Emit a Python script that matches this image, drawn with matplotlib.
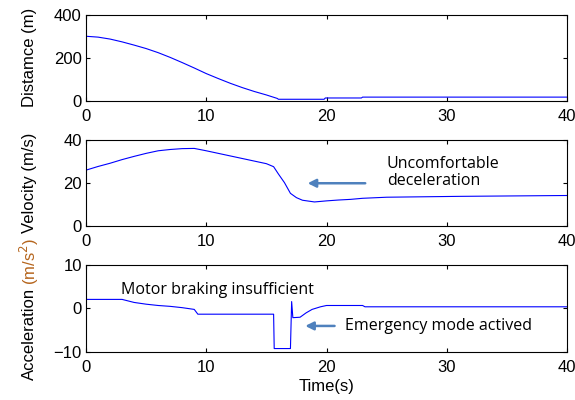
import numpy as np
import matplotlib.pyplot as plt

# ── DATA ────────────────────────────────────────────────────────────────────
dist_t = [0, 1, 2, 3, 4, 5, 6, 7, 8, 9, 10, 11, 12, 13, 14, 15, 15.9,
          16, 19.8, 19.9, 22.9, 23, 40]
dist_m = [300, 296, 287, 274, 259, 243, 224, 202, 178, 153, 127, 104, 82,
          62, 44, 28, 12, 8, 8, 14, 14, 18, 18]

vel_t = [0, 1, 2, 3, 4, 5, 6, 7, 8, 9, 10, 11, 12, 13, 14, 15, 15.6, 16,
         16.5, 17, 17.5, 18, 19, 20, 21, 22, 23, 25, 31, 40]
vel_v = [25.8, 27.5, 29, 30.7, 32.2, 33.6, 34.8, 35.4, 35.8, 35.9, 34.8,
         33.6, 32.4, 31.2, 30, 28.8, 27.4, 24, 20, 15, 13, 11.8, 11, 11.5,
         11.9, 12.2, 12.7, 13.2, 13.6, 14]

acc_t = [0, 3, 4, 5, 6, 7, 8, 9, 9.3, 15.6, 15.65, 17.0, 17.1, 17.2, 17.8,
         18.3, 18.8, 19.5, 20, 23, 23.2, 40]
acc_a = [2, 2, 1.3, 0.9, 0.6, 0.4, 0.1, -0.3, -1.4, -1.4, -9.3, -9.3, 1.5,
         -2.2, -2.1, -1.1, -0.3, 0.3, 0.6, 0.6, 0.3, 0.3]

XTICKS = [0, 10, 20, 30, 40]
LINE_COLOR = '#0000ff'
ARROW_COLOR = '#4f81bd'
NOTE_FONT = ['Open Sans', 'DejaVu Sans']
NOTE_SIZE = 11.5

plt.rcParams['font.family'] = ['Liberation Sans', 'DejaVu Sans']
plt.rcParams['font.size'] = 12

fig = plt.figure(figsize=(5.75, 4.0), dpi=100)
ax1 = fig.add_axes([0.1496, 0.7475, 0.8365, 0.2158])
ax2 = fig.add_axes([0.1496, 0.436, 0.8365, 0.215])
ax3 = fig.add_axes([0.1496, 0.121, 0.8365, 0.2175])


def style(ax, yticks):
    ax.set_xlim(0, 40)
    ax.set_xticks(XTICKS)
    ax.set_yticks(yticks)
    ax.set_ylim(yticks[0], yticks[-1])
    ax.tick_params(direction='in', top=True, right=True, length=3,
                   width=0.8, labelsize=12)
    ax.tick_params(axis='x', pad=6)
    ax.tick_params(axis='y', pad=3)
    for s in ax.spines.values():
        s.set_linewidth(0.8)


ax1.plot(dist_t, dist_m, color=LINE_COLOR, linewidth=0.8)
style(ax1, [0, 200, 400])
ax1.set_ylabel('Distamce (m)', fontsize=12)
ax1.yaxis.set_label_coords(-0.102, 0.5)

ax2.plot(vel_t, vel_v, color=LINE_COLOR, linewidth=0.8)
style(ax2, [0, 20, 40])
ax2.set_ylabel('Velocity (m/s)', fontsize=12)
ax2.yaxis.set_label_coords(-0.102, 0.5)
ax2.annotate('', xy=(18.2, 19.7), xytext=(23.45, 19.7),
             arrowprops=dict(arrowstyle='-|>', color=ARROW_COLOR, lw=1.8,
                             mutation_scale=12))
ax2.text(25.0, 26.7, 'Uncomfortable', fontsize=NOTE_SIZE,
         family=NOTE_FONT, va='baseline', ha='left')
ax2.text(25.0, 18.9, 'deceleration', fontsize=NOTE_SIZE,
         family=NOTE_FONT, va='baseline', ha='left')

ax3.plot(acc_t, acc_a, color=LINE_COLOR, linewidth=0.8)
style(ax3, [-10, 0, 10])
ax3.set_xlabel('Time(s)', fontsize=12, labelpad=3)
ax3.annotate('', xy=(18.0, -4.1), xytext=(20.9, -4.1),
             arrowprops=dict(arrowstyle='-|>', color=ARROW_COLOR, lw=1.8,
                             mutation_scale=12))
ax3.text(21.5, -4.1, 'Emergency mode actived', fontsize=NOTE_SIZE,
         family=NOTE_FONT, va='center', ha='left')
ax3.text(2.9, 3.26, 'Motor braking insufficient', fontsize=NOTE_SIZE,
         family=NOTE_FONT, va='baseline', ha='left')

# two-coloured y label for the acceleration panel
fig.text(0.051, 0.05, 'Acceleration', rotation=90, fontsize=12,
         ha='center', va='bottom')
fig.text(0.051, 0.287, '(m/s$^2$)', rotation=90, fontsize=12,
         ha='center', va='bottom', color='#b5651d')

plt.savefig('out.png', dpi=100)
